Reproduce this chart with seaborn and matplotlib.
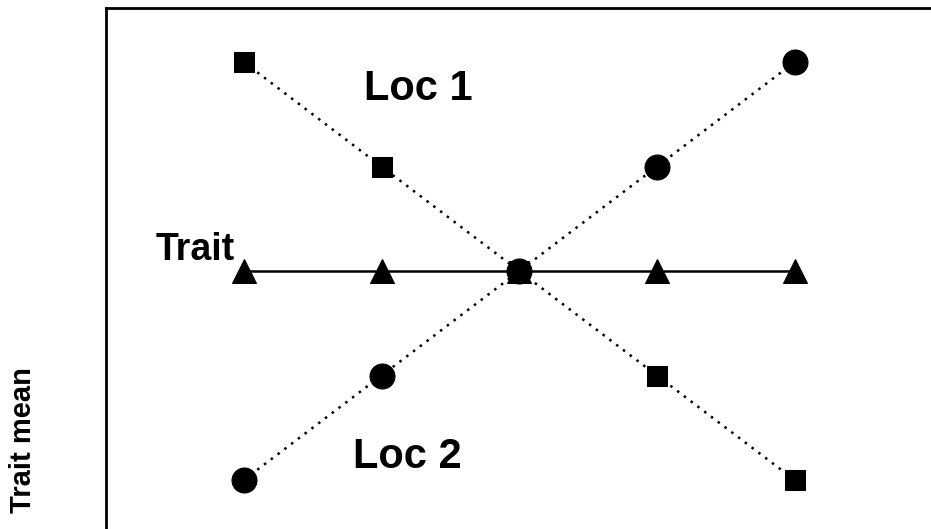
import matplotlib
matplotlib.use("Agg")
import matplotlib.pyplot as plt
import seaborn as sns
import pandas as pd

# Data
x_pos = [1, 2, 3, 4, 5]
loc1 = [2, 1, 0, -1, -2]
loc2 = [-2, -1, 0, 1, 2]
trait = [0, 0, 0, 0, 0]

sns.set_theme(style="white")
plt.rcParams['font.family'] = ['Liberation Sans', 'DejaVu Sans']
plt.rcParams['text.color'] = 'black'

W, H = 931, 529
fig = plt.figure(figsize=(W / 100, H / 100), dpi=100)
ax_left = 106 / W
ax_top = 1 - 8 / H
ax_w = 826.5 / W
ax_bottom = (529 - 534.4) / H
ax = fig.add_axes([ax_left, ax_bottom, ax_w, ax_top - ax_bottom])

df = pd.DataFrame({"x": x_pos, "loc1": loc1, "loc2": loc2, "trait": trait})

sns.lineplot(data=df, x="x", y="trait", ax=ax, color="black", linewidth=1.8,
             marker="^", markersize=17, markeredgecolor="black", sort=False)
sns.lineplot(data=df, x="x", y="loc2", ax=ax, color="black", linewidth=1.8,
             linestyle=(0, (1, 2.4)), marker="o", markersize=18,
             markeredgecolor="black", sort=False)
sns.lineplot(data=df, x="x", y="loc1", ax=ax, color="black", linewidth=1.8,
             linestyle=(0, (1, 2.4)), marker="s", markersize=15,
             markeredgecolor="black", sort=False)

ax.set_xlim(0, 6)
ax.set_ylim(-2.52, 2.517)
ax.set_xticks([])
ax.set_yticks([])
ax.set_xlabel("")
ax.set_ylabel("")
for s in ax.spines.values():
    s.set_color("black")
    s.set_linewidth(2)

ax.text(2.265, 1.74, "Loc 1", fontsize=30, fontweight="bold", color="black",
        ha="center", va="center")
ax.text(2.19, -1.78, "Loc 2", fontsize=30, fontweight="bold", color="black",
        ha="center", va="center")
ax.text(0.646, 0.20, "Trait", fontsize=27, fontweight="bold", color="black",
        ha="center", va="center")

fig.text(23 / W, 1 - 440 / H, "Trait mean", fontsize=21, fontweight="bold",
         color="black", rotation=90, ha="center", va="center")

fig.savefig("out.png", dpi=100)
